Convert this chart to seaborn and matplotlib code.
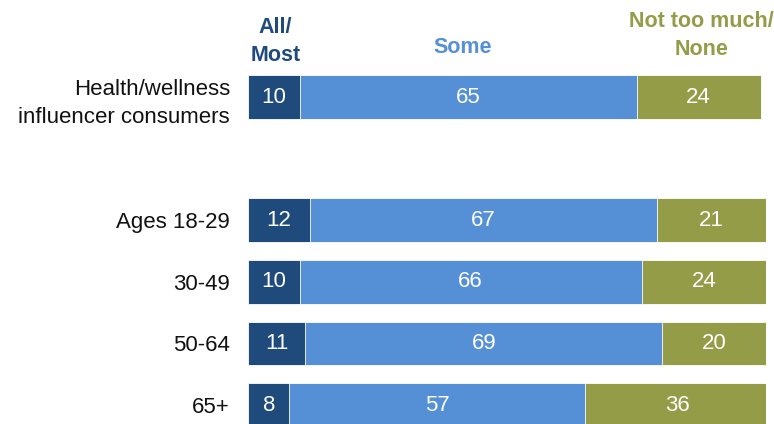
import matplotlib
matplotlib.use("Agg")
import matplotlib.pyplot as plt
import seaborn as sns
import numpy as np
import pandas as pd

categories = ["Health/wellness\ninfluencer consumers", "Ages 18-29", "30-49", "50-64", "65+"]
all_most = [10, 12, 10, 11, 8]
some = [65, 67, 66, 69, 57]
not_much = [24, 21, 24, 20, 36]
series_names = ["All/\nMost", "Some", "Not too much/\nNone"]
colors = ["#1f4a7c", "#558fd6", "#949c48"]

sns.set_theme(style="white")
plt.rcParams['font.family'] = ['Liberation Sans', 'DejaVu Sans']

spacer = " "
order = [categories[0], spacer] + categories[1:]

df = pd.DataFrame({"cat": categories, "a": all_most, "b": some, "c": not_much})
df["cum1"] = df["a"]
df["cum2"] = df["a"] + df["b"]
df["cum3"] = df["a"] + df["b"] + df["c"]

fig = plt.figure(figsize=(7.74, 4.24), dpi=100)
ax = fig.add_axes([248/774, 0.001, 518/774, 0.8427])

for col, color in zip(["cum3", "cum2", "cum1"], colors[::-1]):
    sns.barplot(data=df, x=col, y="cat", order=order, color=color, width=0.71,
                orient="h", ax=ax, edgecolor="white", linewidth=0.6, saturation=1)

ax.set_xlim(0, 100)
ax.set_ylim(5.3, -0.5)
ax.set_xlabel("")
ax.set_ylabel("")
ax.set_xticks([])
ax.set_yticks([0, 2, 3, 4, 5])
ax.set_yticklabels(categories, fontsize=16, color="#111111", linespacing=1.45)
ax.tick_params(axis="y", length=0, pad=13)
for s in ax.spines.values():
    s.set_visible(False)

ypos = [0, 2, 3, 4, 5]
for i, y in enumerate(ypos):
    starts = [0, all_most[i], all_most[i] + some[i]]
    vals = [all_most[i], some[i], not_much[i]]
    for st, v in zip(starts, vals):
        ax.text(st + v / 2, y, str(v), ha="center", va="center", color="white", fontsize=16)

# headers
ax.text(all_most[0] / 2 + 0.3, -0.9, series_names[0], ha="center", va="center",
        color=colors[0], fontsize=15.5, fontweight="bold", linespacing=1.4)
ax.text(all_most[0] + some[0] / 2 - 1, -0.8, series_names[1], ha="center", va="center",
        color=colors[1], fontsize=15.5, fontweight="bold")
ax.text(all_most[0] + some[0] + not_much[0] / 2 + 0.5, -1.0, series_names[2], ha="center", va="center",
        color=colors[2], fontsize=15.5, fontweight="bold", linespacing=1.4)

fig.savefig("out.png", dpi=100)
